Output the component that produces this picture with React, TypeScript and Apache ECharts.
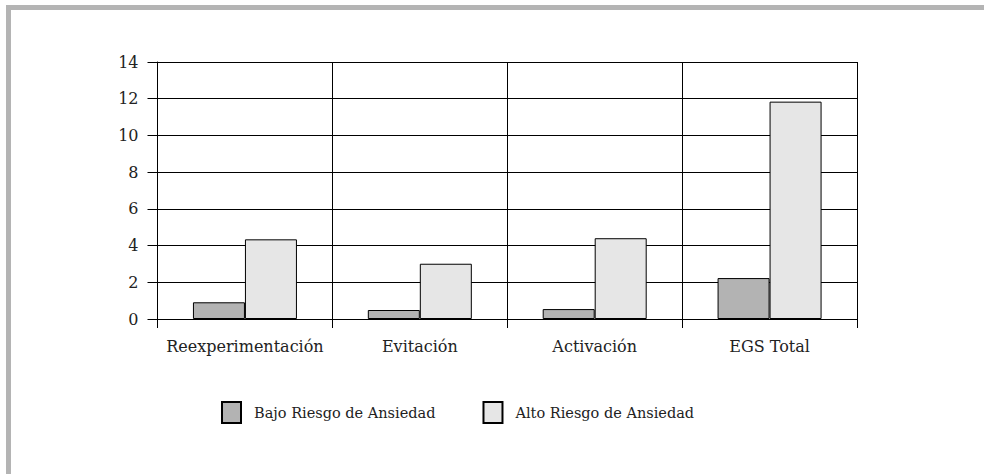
import React, { useEffect, useRef } from "react";
import * as echarts from "echarts";

const categories = ["Reexperimentación", "Evitación", "Activación", "EGS Total"];
const seriesNames = ["Bajo Riesgo de Ansiedad", "Alto Riesgo de Ansiedad"];
const bajoValues = [0.91, 0.49, 0.54, 2.23];
const altoValues = [4.34, 3.01, 4.4, 11.84];
const yTicks = { min: 0, max: 14, interval: 2 };

const FONT = "DejaVu Serif";

export default function App() {
  const ref = useRef<HTMLDivElement>(null);
  useEffect(() => {
    if (!ref.current) return;
    const chart = echarts.init(ref.current, null, { renderer: "svg" });
    chart.setOption({
      animation: false,
      backgroundColor: "#ffffff",
      textStyle: { fontFamily: FONT, color: "#222" },
      graphic: [
        { type: "rect", shape: { x: 6, y: 5, width: 978, height: 5 }, style: { fill: "#b4b4b4" } },
        { type: "rect", shape: { x: 6, y: 5, width: 5, height: 469 }, style: { fill: "#b4b4b4" } },
      ],
      grid: { left: 157.5, right: 127, top: 62, bottom: 155, containLabel: false },
      legend: {
        left: 221,
        top: 401,
        padding: 0,
        itemWidth: 19,
        itemHeight: 21,
        itemGap: 47,
        icon: "rect",
        textStyle: { fontFamily: FONT, fontSize: 14.5, color: "#222", padding: [0, 0, 0, 8] },
        data: seriesNames,
      },
      xAxis: {
        type: "category",
        data: categories,
        boundaryGap: true,
        axisLine: { show: true, lineStyle: { color: "#000", width: 1 } },
        axisTick: { show: true, length: 9, interval: 0, lineStyle: { color: "#000" } },
        splitLine: { show: true, interval: 0, lineStyle: { color: "#000", width: 1 } },
        axisLabel: { interval: 0, margin: 19, fontFamily: FONT, fontSize: 16, color: "#222" },
      },
      yAxis: {
        type: "value",
        min: yTicks.min,
        max: yTicks.max,
        interval: yTicks.interval,
        axisLine: { show: true, lineStyle: { color: "#000", width: 1 } },
        axisTick: { show: true, length: 10, lineStyle: { color: "#000" } },
        splitLine: { show: true, lineStyle: { color: "#000", width: 1 } },
        axisLabel: { margin: 19, fontFamily: FONT, fontSize: 16, color: "#222" },
      },
      series: [
        {
          name: seriesNames[0],
          type: "bar",
          data: bajoValues,
          barWidth: 52,
          barGap: "0%",
          itemStyle: { color: "#b3b3b3", borderColor: "#000", borderWidth: 1 },
        },
        {
          name: seriesNames[1],
          type: "bar",
          data: altoValues,
          barWidth: 52,
          barGap: "0%",
          itemStyle: { color: "#e6e6e6", borderColor: "#000", borderWidth: 1 },
        },
      ],
    });
    return () => chart.dispose();
  }, []);
  return (
    <div
      ref={ref}
      style={{ position: "fixed", left: 0, top: 0, width: 984, height: 474 }}
    />
  );
}
